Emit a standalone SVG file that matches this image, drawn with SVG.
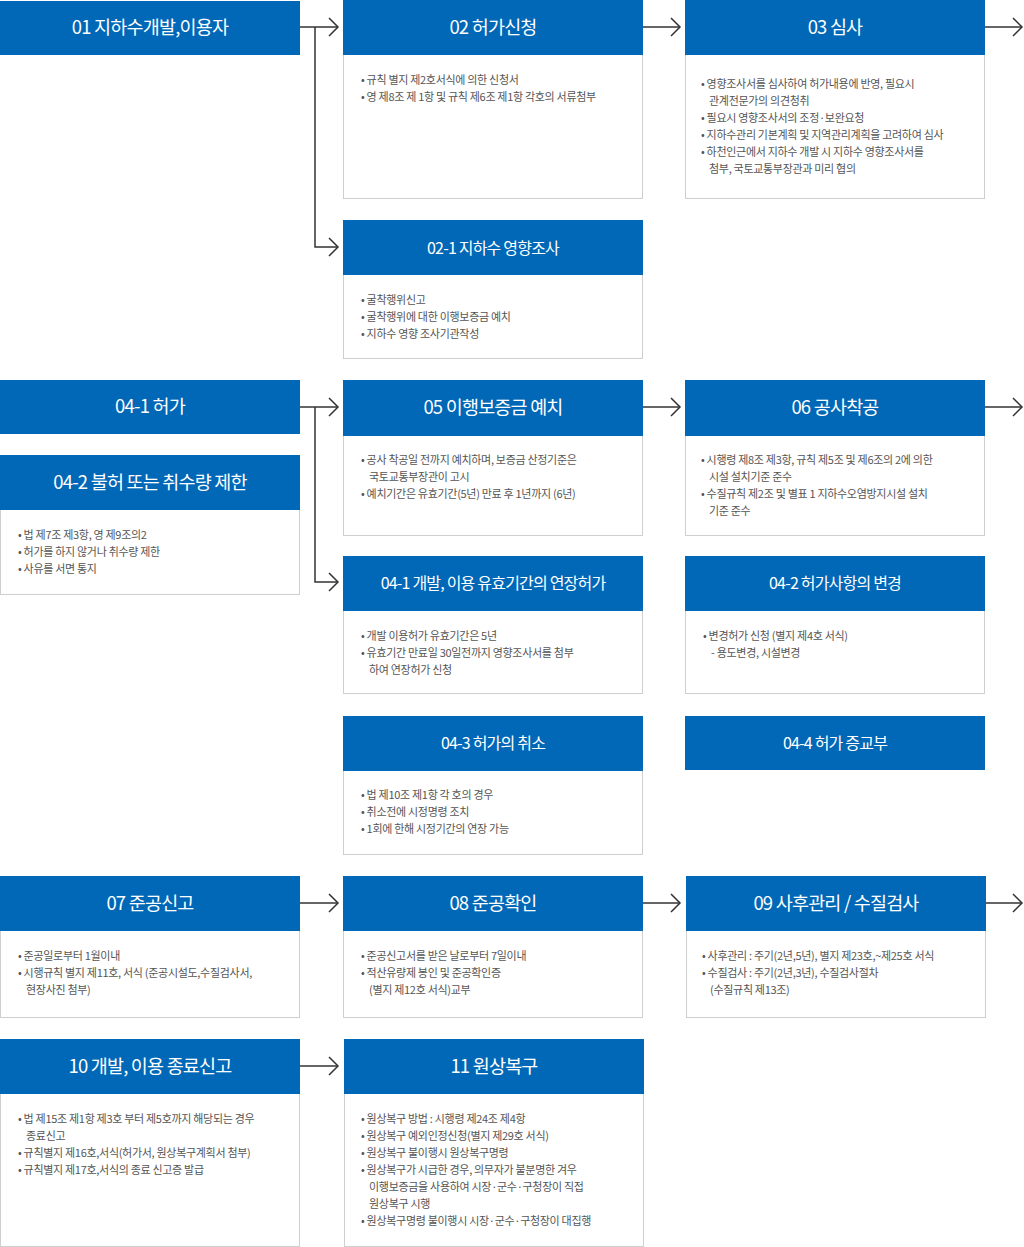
<svg xmlns="http://www.w3.org/2000/svg" width="1024" height="1247" viewBox="0 0 1024 1247">
<style>
.h{fill:#0068b7}
.b{fill:#fff;stroke:#cfcfcf;stroke-width:1}
.t{font-family:"Noto Sans CJK KR","Noto Sans",sans-serif;font-size:18.5px;fill:#fff;text-anchor:middle;letter-spacing:-0.8px}
.s{font-family:"Noto Sans CJK KR","Noto Sans",sans-serif;font-size:11px;fill:#555;letter-spacing:-0.3px}
.c{fill:none;stroke:#333;stroke-width:1.5}
</style>
<defs>
<marker id="a" markerWidth="12" markerHeight="20" refX="10" refY="10" orient="auto" markerUnits="userSpaceOnUse"><path d="M1,1 L10,10 L1,19" fill="none" stroke="#333" stroke-width="1.5"/></marker>
</defs>
<rect width="1024" height="1247" fill="#fff"/>
<g id="connectors">
<path class="c" d="M300,27 H338" marker-end="url(#a)"/>
<path class="c" d="M315,27 V247 H338" marker-end="url(#a)"/>
<path class="c" d="M643,27 H680" marker-end="url(#a)"/>
<path class="c" d="M985,27 H1022" marker-end="url(#a)"/>
<path class="c" d="M300,407 H338" marker-end="url(#a)"/>
<path class="c" d="M315,407 V582 H338" marker-end="url(#a)"/>
<path class="c" d="M643,407 H680" marker-end="url(#a)"/>
<path class="c" d="M985,407 H1022" marker-end="url(#a)"/>
<path class="c" d="M300,903 H338" marker-end="url(#a)"/>
<path class="c" d="M643,903 H680" marker-end="url(#a)"/>
<path class="c" d="M986,903 H1022" marker-end="url(#a)"/>
<path class="c" d="M300,1066 H338" marker-end="url(#a)"/>
</g>
<g id="n01"><rect class="h" x="0" y="1" width="300" height="54"/><text class="t" x="150" y="34">01 지하수개발,이용자</text></g>
<g id="n02"><rect class="b" x="343.5" y="54.5" width="299" height="144"/><rect class="h" x="343" y="0" width="300" height="55"/><text class="t" x="493" y="34">02 허가신청</text>
<text class="s" x="361" y="84">• 규칙 별지 제2호서식에 의한 신청서</text><text class="s" x="361" y="101">• 영 제8조 제 1항 및 규칙 제6조 제1항 각호의 서류첨부</text></g>
<g id="n03"><rect class="b" x="685.5" y="54.5" width="299" height="144"/><rect class="h" x="685" y="0" width="300" height="55"/><text class="t" x="835" y="34">03 심사</text>
<text class="s" x="701" y="88">• 영향조사서를 심사하여 허가내용에 반영, 필요시</text><text class="s" x="709" y="105">관계전문가의 의견청취</text><text class="s" x="701" y="122">• 필요시 영향조사서의 조정·보완요청</text><text class="s" x="701" y="139">• 지하수관리 기본계획 및 지역관리계획을 고려하여 심사</text><text class="s" x="701" y="156">• 하천인근에서 지하수 개발 시 지하수 영향조사서를</text><text class="s" x="709" y="173">첨부, 국토교통부장관과 미리 협의</text></g>
<g id="n021"><rect class="b" x="343.5" y="274.5" width="299" height="84"/><rect class="h" x="343" y="220" width="300" height="55"/><text class="t" x="493" y="254" style="font-size:16px">02-1 지하수 영향조사</text>
<text class="s" x="361" y="304">• 굴착행위신고</text><text class="s" x="361" y="321">• 굴착행위에 대한 이행보증금 예치</text><text class="s" x="361" y="338">• 지하수 영향 조사기관작성</text></g>
<g id="n041"><rect class="h" x="0" y="380" width="300" height="54"/><text class="t" x="150" y="413">04-1 허가</text></g>
<g id="n042"><rect class="b" x="0.5" y="509.5" width="299" height="85"/><rect class="h" x="0" y="455" width="300" height="55"/><text class="t" x="150" y="489">04-2 불허 또는 취수량 제한</text>
<text class="s" x="18" y="539">• 법 제7조 제3항, 영 제9조의2</text><text class="s" x="18" y="556">• 허가를 하지 않거나 취수량 제한</text><text class="s" x="18" y="573">• 사유를 서면 통지</text></g>
<g id="n05"><rect class="b" x="343.5" y="435.5" width="299" height="100"/><rect class="h" x="343" y="380" width="300" height="56"/><text class="t" x="493" y="414">05 이행보증금 예치</text>
<text class="s" x="361" y="464">• 공사 착공일 전까지 예치하며, 보증금 산정기준은</text><text class="s" x="369" y="481">국토교통부장관이 고시</text><text class="s" x="361" y="498">• 예치기간은 유효기간(5년) 만료 후 1년까지 (6년)</text></g>
<g id="n06"><rect class="b" x="685.5" y="435.5" width="299" height="100"/><rect class="h" x="685" y="380" width="300" height="56"/><text class="t" x="835" y="414">06 공사착공</text>
<text class="s" x="701" y="464">• 시행령 제8조 제3항, 규칙 제5조 및 제6조의 2에 의한</text><text class="s" x="709" y="481">시설 설치기준 준수</text><text class="s" x="701" y="498">• 수질규칙 제2조 및 별표 1 지하수오염방지시설 설치</text><text class="s" x="709" y="515">기준 준수</text></g>
<g id="n041b"><rect class="b" x="343.5" y="610.5" width="299" height="83"/><rect class="h" x="343" y="556" width="300" height="55"/><text class="t" x="493" y="589" style="font-size:16px">04-1 개발, 이용 유효기간의 연장허가</text>
<text class="s" x="361" y="640">• 개발 이용허가 유효기간은 5년</text><text class="s" x="361" y="657">• 유효기간 만료일 30일전까지 영향조사서를 첨부</text><text class="s" x="369" y="674">하여 연장허가 신청</text></g>
<g id="n042b"><rect class="b" x="685.5" y="610.5" width="299" height="83"/><rect class="h" x="685" y="556" width="300" height="55"/><text class="t" x="835" y="589" style="font-size:16px">04-2 허가사항의 변경</text>
<text class="s" x="703" y="640">• 변경허가 신청 (별지 제4호 서식)</text><text class="s" x="711" y="657">- 용도변경, 시설변경</text></g>
<g id="n043"><rect class="b" x="343.5" y="770.5" width="299" height="84"/><rect class="h" x="343" y="716" width="300" height="55"/><text class="t" x="493" y="749" style="font-size:16px">04-3 허가의 취소</text>
<text class="s" x="361" y="799">• 법 제10조 제1항 각 호의 경우</text><text class="s" x="361" y="816">• 취소전에 시정명령 조치</text><text class="s" x="361" y="833">• 1회에 한해 시정기간의 연장 가능</text></g>
<g id="n044"><rect class="h" x="685" y="716" width="300" height="54"/><text class="t" x="835" y="749" style="font-size:16px">04-4 허가 증교부</text></g>
<g id="n07"><rect class="b" x="0.5" y="930.5" width="299" height="87"/><rect class="h" x="0" y="876" width="300" height="55"/><text class="t" x="150" y="910">07 준공신고</text>
<text class="s" x="18" y="960">• 준공일로부터 1월이내</text><text class="s" x="18" y="977">• 시행규칙 별지 제11호, 서식 (준공시설도,수질검사서,</text><text class="s" x="26" y="994">현장사진 첨부)</text></g>
<g id="n08"><rect class="b" x="343.5" y="930.5" width="299" height="87"/><rect class="h" x="343" y="876" width="300" height="55"/><text class="t" x="493" y="910">08 준공확인</text>
<text class="s" x="361" y="960">• 준공신고서를 받은 날로부터 7일이내</text><text class="s" x="361" y="977">• 적산유량제 봉인 및 준공확인증</text><text class="s" x="369" y="994">(별지 제12호 서식)교부</text></g>
<g id="n09"><rect class="b" x="686.5" y="930.5" width="299" height="87"/><rect class="h" x="686" y="876" width="300" height="55"/><text class="t" x="836" y="910">09 사후관리 / 수질검사</text>
<text class="s" x="702" y="960">• 사후관리 : 주기(2년,5년), 별지 제23호,~제25호 서식</text><text class="s" x="702" y="977">• 수질검사 : 주기(2년,3년), 수질검사절차</text><text class="s" x="710" y="994">(수질규칙 제13조)</text></g>
<g id="n10"><rect class="b" x="0.5" y="1093.5" width="299" height="153"/><rect class="h" x="0" y="1039" width="300" height="55"/><text class="t" x="150" y="1073">10 개발, 이용 종료신고</text>
<text class="s" x="18" y="1123">• 법 제15조 제1항 제3호 부터 제5호까지 해당되는 경우</text><text class="s" x="26" y="1140">종료신고</text><text class="s" x="18" y="1157">• 규칙별지 제16호,서식(허가서, 원상복구계획서 첨부)</text><text class="s" x="18" y="1174">• 규칙별지 제17호,서식의 종료 신고증 발급</text></g>
<g id="n11"><rect class="b" x="344.5" y="1093.5" width="299" height="153"/><rect class="h" x="344" y="1039" width="300" height="55"/><text class="t" x="494" y="1073">11 원상복구</text>
<text class="s" x="361" y="1123">• 원상복구 방법 : 시행령 제24조 제4항</text><text class="s" x="361" y="1140">• 원상복구 예외인정신청(별지 제29호 서식)</text><text class="s" x="361" y="1157">• 원상복구 불이행시 원상복구명령</text><text class="s" x="361" y="1174">• 원상복구가 시급한 경우, 의무자가 불분명한 겨우</text><text class="s" x="369" y="1191">이행보증금을 사용하여 시장·군수·구청장이 직접</text><text class="s" x="369" y="1208">원상복구 시행</text><text class="s" x="361" y="1225">• 원상복구명령 불이행시 시장·군수·구청장이 대집행</text></g>
</svg>
